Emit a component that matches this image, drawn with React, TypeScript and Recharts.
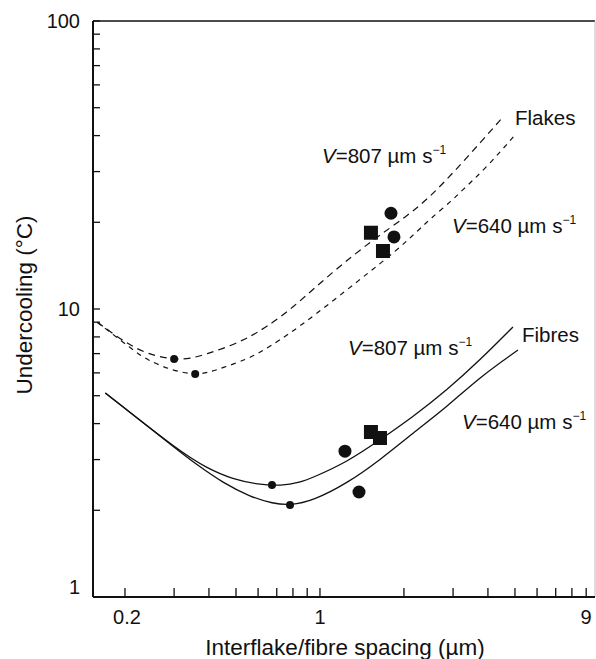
import { ComposedChart, Line, Scatter, XAxis, YAxis, ReferenceLine, Customized } from "recharts";

// spacing (µm) vs undercooling (°C)
const flakes807 = [
  { x: 0.159, y: 9.0 }, { x: 0.214, y: 7.3 }, { x: 0.26, y: 6.85 }, { x: 0.3, y: 6.68 },
  { x: 0.342, y: 6.72 }, { x: 0.394, y: 6.98 }, { x: 0.476, y: 7.44 }, { x: 0.561, y: 8.0 },
  { x: 0.646, y: 8.7 }, { x: 0.781, y: 9.9 }, { x: 1.113, y: 13.5 }, { x: 1.549, y: 17.4 },
  { x: 2.05, y: 21.0 }, { x: 2.48, y: 24.5 }, { x: 3.048, y: 30.2 }, { x: 3.746, y: 37.7 },
  { x: 4.49, y: 46.0 },
];
const flakes640 = [
  { x: 0.159, y: 9.0 }, { x: 0.214, y: 7.2 }, { x: 0.24, y: 6.65 }, { x: 0.297, y: 6.1 },
  { x: 0.357, y: 5.92 }, { x: 0.394, y: 6.0 }, { x: 0.449, y: 6.25 }, { x: 0.547, y: 6.7 },
  { x: 0.609, y: 7.05 }, { x: 0.827, y: 8.5 }, { x: 1.426, y: 12.9 }, { x: 1.888, y: 16.0 },
  { x: 2.283, y: 19.0 }, { x: 2.479, y: 20.5 }, { x: 2.998, y: 24.0 }, { x: 3.176, y: 25.4 },
  { x: 3.968, y: 31.1 }, { x: 5.0, y: 40.2 },
];
const fibres807 = [
  { x: 0.17, y: 5.11 }, { x: 0.315, y: 3.19 }, { x: 0.394, y: 2.8 }, { x: 0.488, y: 2.56 },
  { x: 0.6, y: 2.46 }, { x: 0.725, y: 2.43 }, { x: 0.85, y: 2.5 }, { x: 0.944, y: 2.6 },
  { x: 1.249, y: 2.94 }, { x: 1.641, y: 3.51 }, { x: 2.154, y: 4.22 }, { x: 2.852, y: 5.23 },
  { x: 3.746, y: 6.65 }, { x: 4.918, y: 8.66 },
];
const fibres640 = [
  { x: 0.17, y: 5.11 }, { x: 0.315, y: 3.19 }, { x: 0.362, y: 2.88 }, { x: 0.449, y: 2.49 },
  { x: 0.561, y: 2.23 }, { x: 0.679, y: 2.11 }, { x: 0.781, y: 2.08 }, { x: 0.944, y: 2.16 },
  { x: 1.249, y: 2.48 }, { x: 1.641, y: 2.99 }, { x: 2.154, y: 3.71 }, { x: 2.852, y: 4.57 },
  { x: 3.746, y: 5.81 }, { x: 5.126, y: 7.2 },
];
const smallDots = [
  { x: 0.3, y: 6.71 }, { x: 0.357, y: 5.95 }, { x: 0.673, y: 2.448 }, { x: 0.781, y: 2.087 },
];
const bigCircles = [
  { x: 1.797, y: 21.5 }, { x: 1.842, y: 17.8 }, { x: 1.229, y: 3.21 }, { x: 1.38, y: 2.315 },
];
const bigSquares = [
  { x: 1.523, y: 18.4 }, { x: 1.682, y: 15.9 }, { x: 1.523, y: 3.74 }, { x: 1.641, y: 3.565 },
];

const xTicks = [0.2, 0.3, 0.4, 0.5, 0.6, 0.7, 0.8, 0.9, 1, 2, 3, 4, 5, 6, 7, 8, 9];
const xTickLabels = [0.2, 1, 9];
const yTicks = [1, 2, 3, 4, 5, 6, 7, 8, 9, 10, 20, 30, 40, 50, 60, 70, 80, 90, 100];
const yTickLabels = [1, 10, 100];

const X_MIN = 0.1536;
const X_MAX = 9.68;
const FONT = "'Liberation Sans', Arial, Helvetica, sans-serif";
const INK = "#111";

const XTick = (props: any) => {
  const { x, payload } = props;
  const v = payload.value;
  return (
    <g>
      <line x1={x} x2={x} y1={597} y2={588} stroke={INK} strokeWidth={1.3} />
      {xTickLabels.includes(v) && (
        <text x={x + (v === 0.2 ? 2 : 0)} y={624} textAnchor="middle" fontSize={20} fontFamily={FONT} fill={INK}>
          {String(v)}
        </text>
      )}
    </g>
  );
};

const YTick = (props: any) => {
  const { y, payload } = props;
  const v = payload.value;
  return (
    <g>
      <line x1={93} x2={100} y1={y} y2={y} stroke={INK} strokeWidth={1.3} />
      {yTickLabels.includes(v) && (
        <text x={80} y={v === 1 ? y - 3 : y + 7} textAnchor="end" fontSize={20} fontFamily={FONT} fill={INK}>
          {String(v)}
        </text>
      )}
    </g>
  );
};

const VLabel = ({ x, y, v }: { x: number; y: number; v: string }) => (
  <text x={x} y={y} fontSize={20.5} fontFamily={FONT} fill={INK}>
    <tspan fontStyle="italic">V</tspan>
    <tspan>{`=${v} \u00b5m s`}</tspan>
    <tspan dy={-9} fontSize={12}>{"\u22121"}</tspan>
  </text>
);

const Annotations = () => (
  <g>
    <text x={515} y={125} fontSize={20.5} fontFamily={FONT} fill={INK}>Flakes</text>
    <text x={522} y={342} fontSize={20.5} fontFamily={FONT} fill={INK}>Fibres</text>
    <VLabel x={322} y={163} v="807" />
    <VLabel x={452} y={233} v="640" />
    <VLabel x={348} y={355} v="807" />
    <VLabel x={462} y={429} v="640" />
    <text x={345} y={655} textAnchor="middle" fontSize={22.5} fontFamily={FONT} fill={INK}>
      Interflake/fibre spacing ({"\u00b5"}m)
    </text>
    <text x={32} y={305} transform="rotate(-90, 32, 305)" textAnchor="middle" fontSize={22.5} fontFamily={FONT} fill={INK}>
      Undercooling (°C)
    </text>
  </g>
);

const dot = (r: number) => (p: any) => <circle cx={p.cx} cy={p.cy} r={r} fill={INK} />;
const square = (p: any) => <rect x={p.cx - 7} y={p.cy - 7} width={14} height={14} fill={INK} />;

export default function App() {
  return (
    <div style={{ position: "absolute", left: 0, top: 0, background: "#fff" }}>
      <ComposedChart width={596} height={659} margin={{ top: 21, right: 1, bottom: 0, left: 0 }}>
        <XAxis
          type="number"
          dataKey="x"
          scale="log"
          domain={[X_MIN, X_MAX]}
          allowDataOverflow
          ticks={xTicks}
          interval={0}
          tick={XTick}
          tickLine={false}
          height={62}
          axisLine={{ stroke: INK, strokeWidth: 2 }}
        />
        <YAxis
          type="number"
          scale="log"
          domain={[1, 100]}
          allowDataOverflow
          ticks={yTicks}
          interval={0}
          tick={YTick}
          tickLine={false}
          width={93}
          axisLine={{ stroke: INK, strokeWidth: 2 }}
        />
        <ReferenceLine y={100} stroke={INK} strokeWidth={1.6} />
        <ReferenceLine x={X_MAX} stroke="#bbb" strokeWidth={1} />
        <Line data={flakes807} dataKey="y" type="basis" stroke={INK} strokeWidth={1.2} strokeDasharray="7 5" dot={false} isAnimationActive={false} />
        <Line data={flakes640} dataKey="y" type="basis" stroke={INK} strokeWidth={1.2} strokeDasharray="5 5" dot={false} isAnimationActive={false} />
        <Line data={fibres807} dataKey="y" type="basis" stroke={INK} strokeWidth={1.3} dot={false} isAnimationActive={false} />
        <Line data={fibres640} dataKey="y" type="basis" stroke={INK} strokeWidth={1.3} dot={false} isAnimationActive={false} />
        <Scatter data={smallDots} dataKey="y" shape={dot(4)} isAnimationActive={false} />
        <Scatter data={bigCircles} dataKey="y" shape={dot(6.5)} isAnimationActive={false} />
        <Scatter data={bigSquares} dataKey="y" shape={square} isAnimationActive={false} />
        <Customized component={Annotations} />
      </ComposedChart>
    </div>
  );
}
